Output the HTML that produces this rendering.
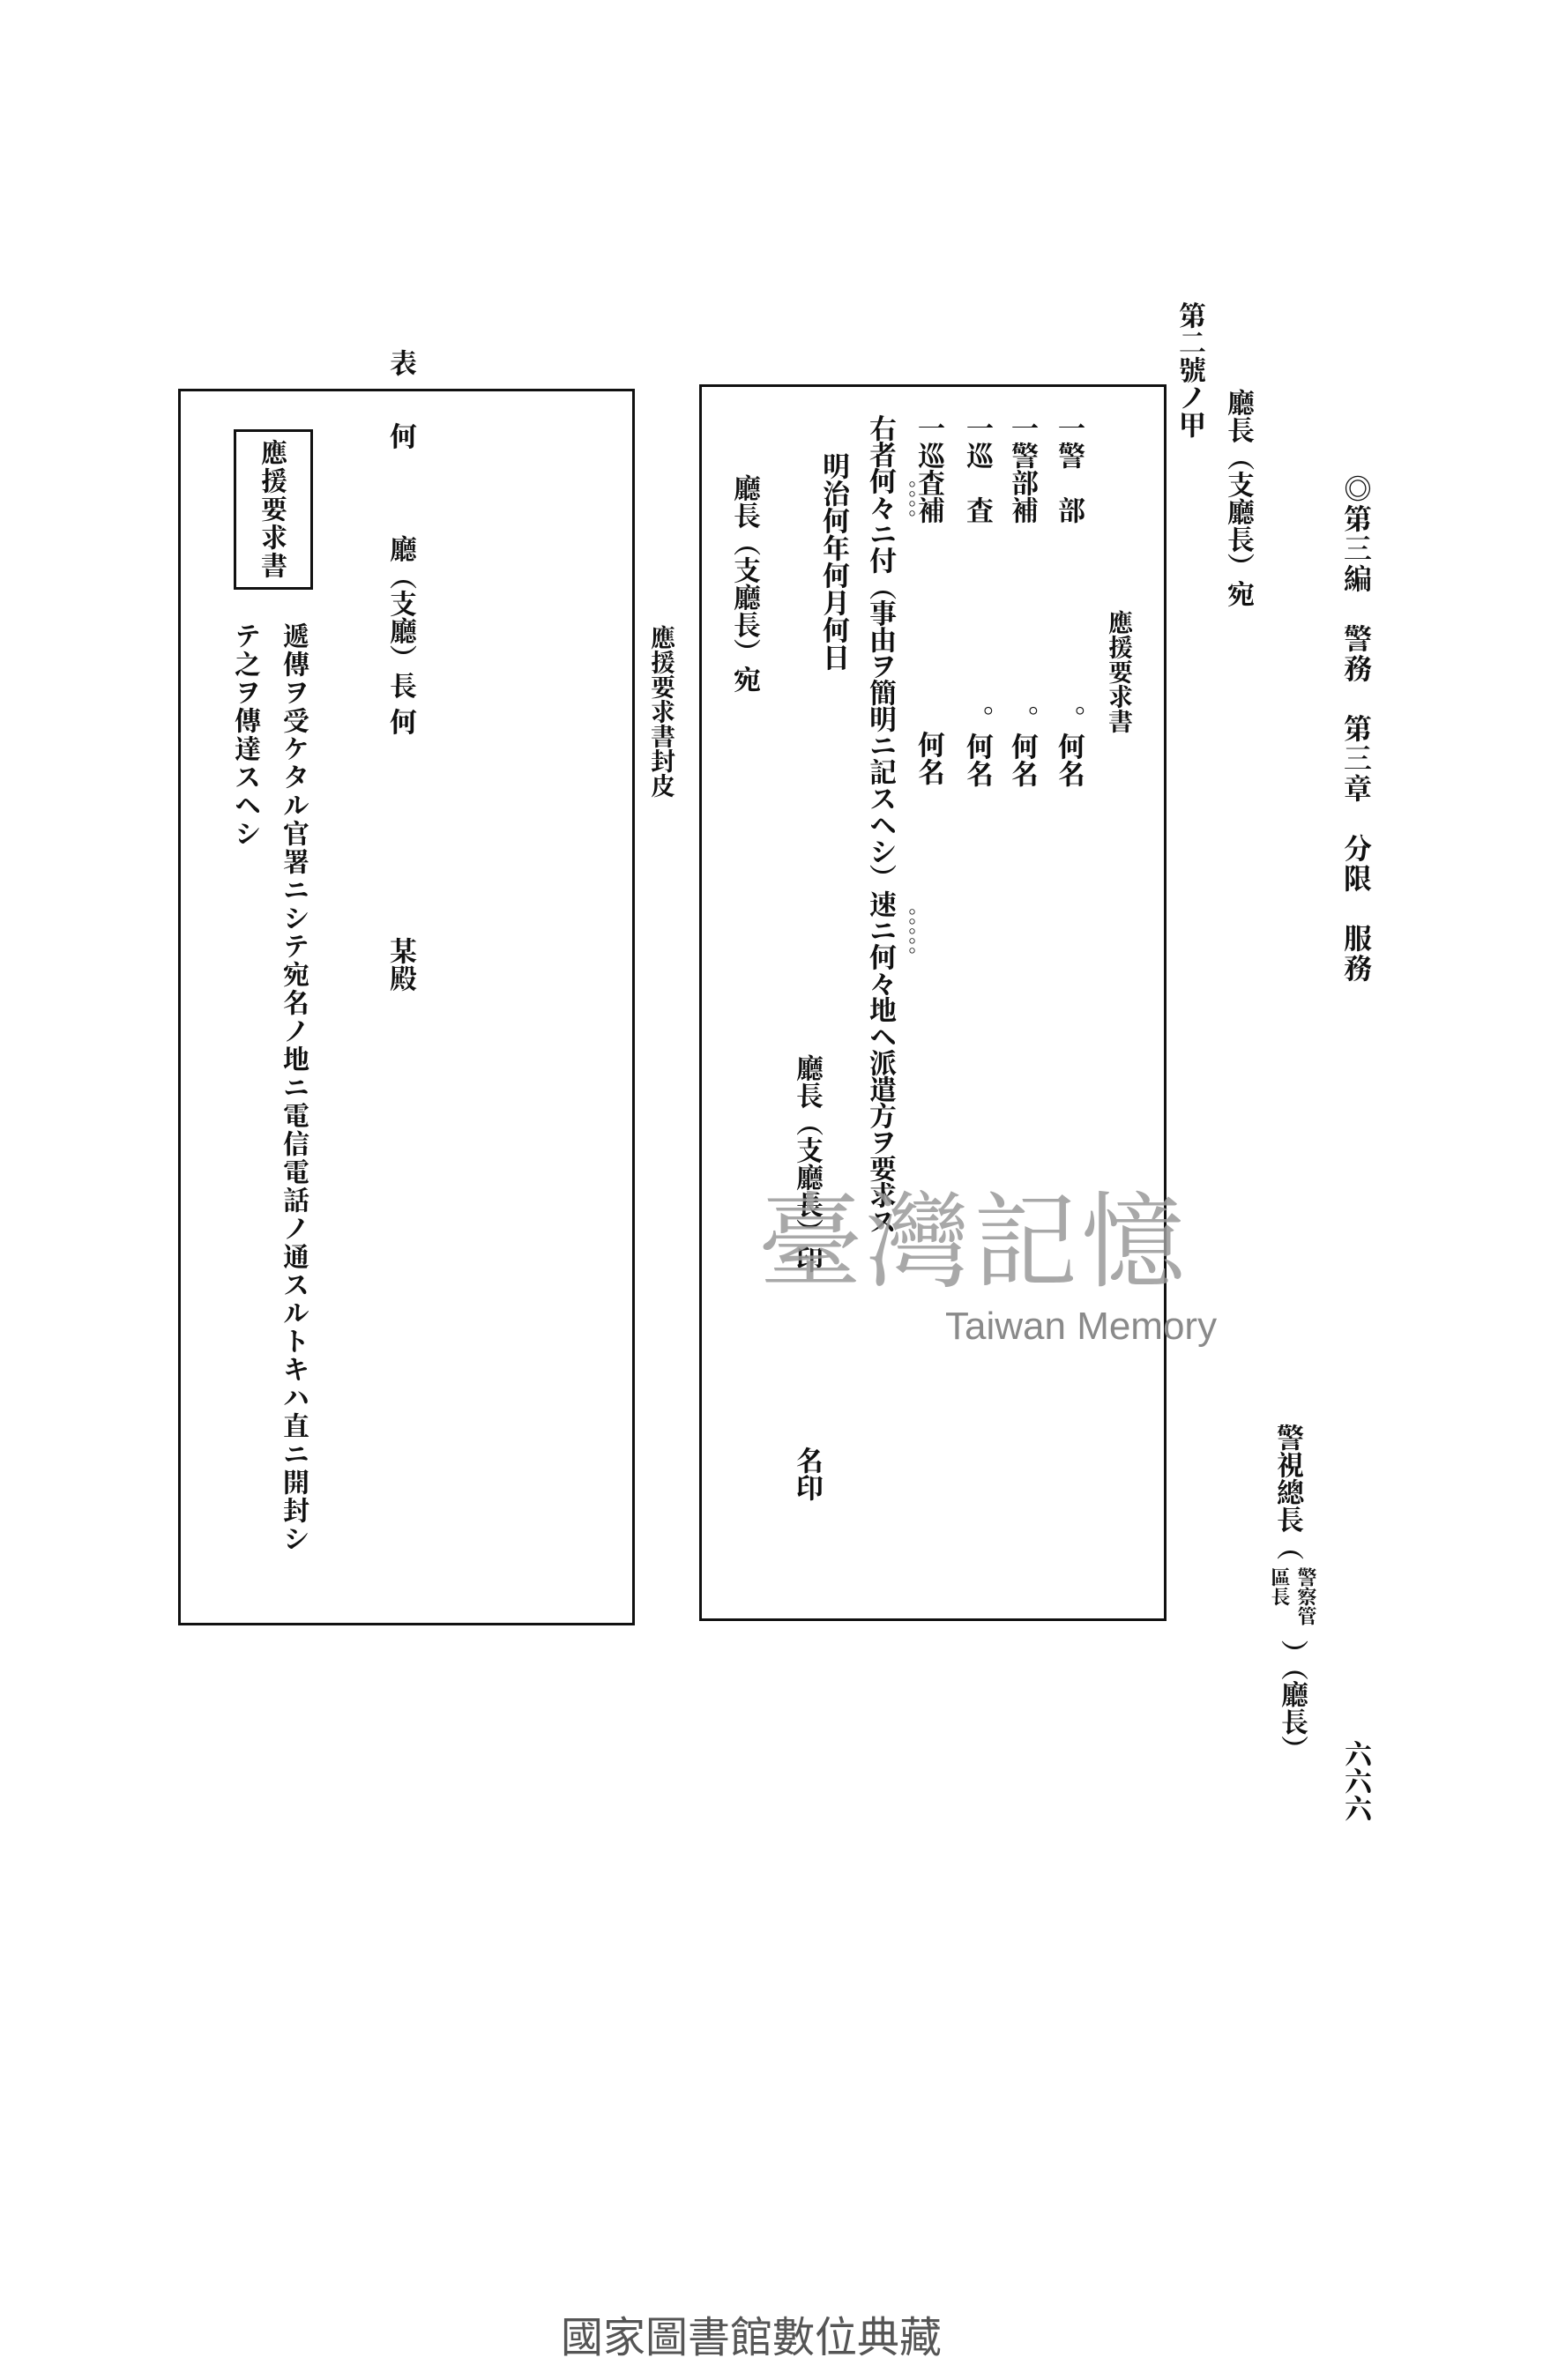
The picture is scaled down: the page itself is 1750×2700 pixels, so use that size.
<!DOCTYPE html>
<html><head><meta charset="utf-8"><style>
html,body{margin:0;padding:0;background:#fff;}
body{width:1750px;height:2700px;position:relative;overflow:hidden;font-family:"Liberation Serif","Noto Serif CJK SC","Noto Sans CJK JP",serif;color:#111;}
.v{position:absolute;writing-mode:vertical-rl;font-size:31px;line-height:1;white-space:nowrap;font-weight:700;}
.s{font-size:22px;}
.box{position:absolute;border:3px solid #111;}
</style></head><body>
<div class="box" style="left:202px;top:441px;width:512px;height:1397px;"></div>
<div class="box" style="left:793px;top:436px;width:524px;height:1397px;"></div>

<div class="v" style="left:1522px;top:538px;font-size:32px;letter-spacing:2px;">◎第三編　警務　第三章　分限　服務</div>
<div class="v" style="left:1334px;top:342px;">第二號ノ甲</div>
<div class="v" style="left:1389px;top:441px;">廳長（支廳長）宛</div>
<div class="v" style="left:1445px;top:1615px;">警視總長（</div>
<div class="v s" style="left:1470px;top:1778px;">警察管</div>
<div class="v s" style="left:1440px;top:1778px;">區長</div>
<div class="v" style="left:1450px;top:1860px;">）（廳長）</div>
<div class="v" style="left:1522px;top:1974px;">六六六</div>

<div class="v" style="left:1254px;top:692px;font-size:28px;">應援要求書</div>
<div class="v" style="left:1197px;top:470px;">一警　部</div>
<div class="v" style="left:1197px;top:800px;">。何名</div>
<div class="v" style="left:1144px;top:470px;">一警部補</div>
<div class="v" style="left:1144px;top:800px;">。何名</div>
<div class="v" style="left:1093px;top:470px;">一巡　査</div>
<div class="v" style="left:1093px;top:800px;">。何名</div>
<div class="v" style="left:1038px;top:470px;">一巡査補</div>
<div class="v" style="left:1038px;top:829px;">何名</div>
<div class="v" style="left:983px;top:470px;letter-spacing:-1px;">右者何々ニ付（事由ヲ簡明ニ記スヘシ）速ニ何々地ヘ派遣方ヲ要求ス</div>
<div class="v s" style="left:1013px;top:545px;line-height:1.2;">。。。。</div>
<div class="v s" style="left:1013px;top:1030px;line-height:1.2;">。。。。。</div>
<div class="v" style="left:930px;top:513px;">明治何年何月何日</div>
<div class="v" style="left:829px;top:538px;">廳長（支廳長）宛</div>
<div class="v" style="left:900px;top:1196px;">廳長（支廳長）印</div>
<div class="v" style="left:900px;top:1641px;">名印</div>
<div class="v" style="left:735px;top:709px;font-size:28px;">應援要求書封皮</div>

<div class="v" style="left:439px;top:396px;">表</div>
<div class="v" style="left:439px;top:479px;">何</div>
<div class="v" style="left:439px;top:607px;">廳（支廳）長</div>
<div class="v" style="left:439px;top:803px;">何</div>
<div class="v" style="left:439px;top:1063px;">某殿</div>
<div class="box" style="left:265px;top:487px;width:84px;height:176px;border-width:3px;"></div>
<div class="v" style="left:292px;top:498px;font-size:30px;letter-spacing:2px;">應援要求書</div>
<div class="v" style="left:317px;top:706px;font-size:30px;letter-spacing:2px;">遞傳ヲ受ケタル官署ニシテ宛名ノ地ニ電信電話ノ通スルトキハ直ニ開封シ</div>
<div class="v" style="left:262px;top:706px;font-size:30px;letter-spacing:2px;">テ之ヲ傳達スヘシ</div>

<div style="position:absolute;left:860px;top:1340px;font-size:118px;line-height:1;color:#9a9a9a;font-family:'Noto Serif CJK SC',serif;letter-spacing:4px;opacity:.85;">臺灣記憶</div>
<div style="position:absolute;left:1072px;top:1480px;font-size:44px;color:#8a8a8a;font-family:'Liberation Sans',sans-serif;">Taiwan Memory</div>

<div style="position:absolute;left:636px;top:2612px;font-size:48px;color:#555;font-family:'Liberation Sans','Noto Sans CJK TC',sans-serif;">國家圖書館數位典藏</div>
</body></html>
